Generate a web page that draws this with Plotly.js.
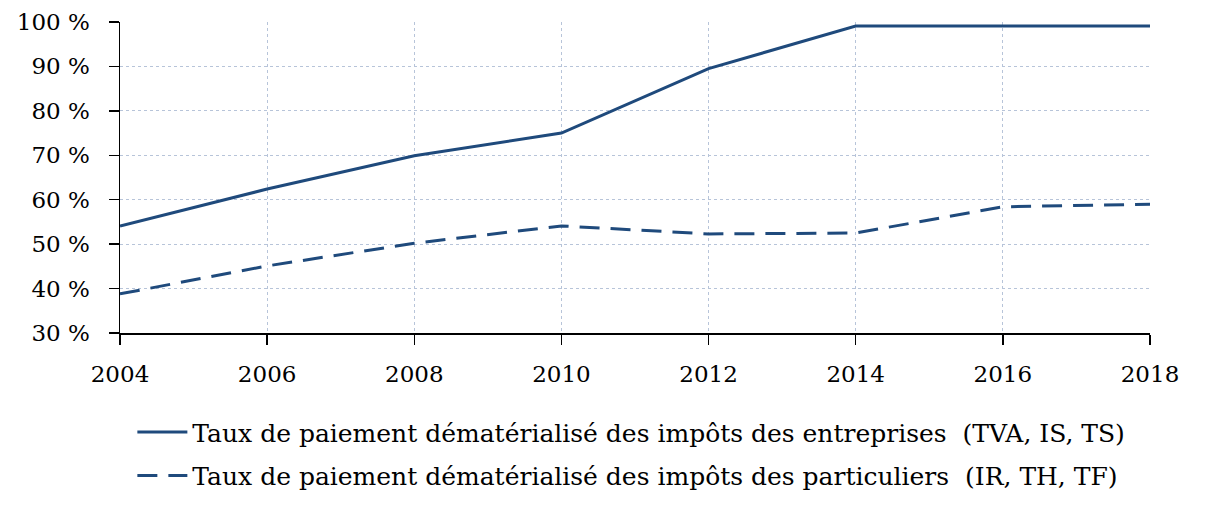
<!DOCTYPE html>
<html>
<head>
<meta charset="utf-8">
<script src="https://cdn.plot.ly/plotly-3.0.1.min.js"></script>
<style>html,body{margin:0;padding:0;background:#fff;}#chart{width:1206px;height:509px;}</style>
</head>
<body>
<div id="chart"></div>
<script>
const years = [2004, 2006, 2008, 2010, 2012, 2014, 2016, 2018];
const entreprises = [54.1, 62.4, 69.9, 75.0, 89.5, 99.1, 99.1, 99.1];
const particuliers = [38.8, 45.1, 50.2, 54.1, 52.3, 52.5, 58.4, 59.0];
const nameEntreprises = "Taux de paiement dématérialisé des impôts des entreprises  (TVA, IS, TS)";
const nameParticuliers = "Taux de paiement dématérialisé des impôts des particuliers  (IR, TH, TF)";
const yTicks = [30, 40, 50, 60, 70, 80, 90, 100];
const yTickLabels = yTicks.map(v => v + " %");

const color = "#1f4a7c";
const fontFam = "DejaVu Serif, serif";

const traces = [
  {x: years, y: entreprises, name: nameEntreprises, type: "scatter", mode: "lines",
   legendgroup: "a", line: {color: color, width: 3}},
  {x: years, y: particuliers, name: nameParticuliers, type: "scatter", mode: "lines",
   legendgroup: "b", line: {color: color, width: 3, dash: "20px,11px"}}
];

const layout = {
  width: 1206, height: 509,
  margin: {l: 120, r: 56, t: 22, b: 176, autoexpand: false},
  paper_bgcolor: "#fff", plot_bgcolor: "#fff",
  font: {family: fontFam, size: 23, color: "#000"},
  showlegend: true,
  legend: {x: 0.012, xanchor: "left", y: -0.245, yanchor: "top", orientation: "v",
           font: {family: fontFam, size: 25, color: "#000"}, tracegroupgap: 8,
           bgcolor: "rgba(0,0,0,0)", itemwidth: 50},
  xaxis: {range: [2004, 2018], tickvals: years, ticktext: years.map(String),
          showline: true, linecolor: "#000", linewidth: 1.5,
          ticks: "outside", ticklen: 10, tickcolor: "#000", tickwidth: 1.5,
          showgrid: true, gridcolor: "#b7c4d9", griddash: "dot", gridwidth: 1,
          zeroline: false, tickfont: {family: fontFam, size: 23}, ticklabelstandoff: 10},
  yaxis: {range: [30, 100], tickvals: yTicks, ticktext: yTickLabels,
          showline: true, linecolor: "#000", linewidth: 1.5,
          ticks: "outside", ticklen: 10, tickcolor: "#000", tickwidth: 1.5,
          showgrid: true, gridcolor: "#b7c4d9", griddash: "dot", gridwidth: 1,
          zeroline: false, tickfont: {family: fontFam, size: 23}, ticklabelstandoff: 14}
};

Plotly.newPlot("chart", traces, layout, {displayModeBar: false, staticPlot: true});
</script>
</body>
</html>
